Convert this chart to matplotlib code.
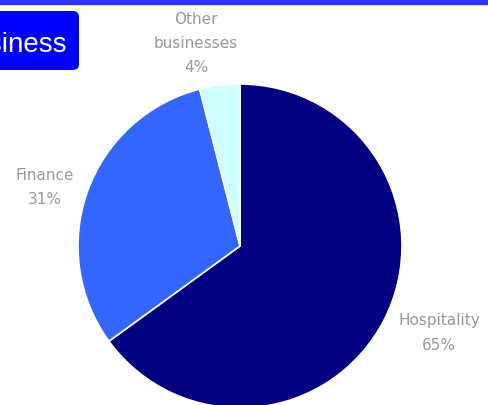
import matplotlib
matplotlib.use('Agg')
import matplotlib.pyplot as plt
from matplotlib.patches import FancyBboxPatch

# sector shares
sectors = ['Hospitality', 'Finance', 'Other\nbusinesses']
shares = [65, 31, 4]
colours = ['#000080', '#3366ff', '#ccffff']
label_xy = [(439, 72), (45, 218), (196, 361)]

W, H = 488, 405
fig = plt.figure(figsize=(W / 100, H / 100), dpi=100)
ax = fig.add_axes([0, 0, 1, 1])

ax.pie(shares, colors=colours, startangle=90, counterclock=False,
       center=(240, 159), radius=162, frame=True,
       wedgeprops=dict(edgecolor='white', linewidth=1.2))
ax.set_xlim(0, W)
ax.set_ylim(0, H)
ax.set_aspect('equal')
ax.axis('off')

for name, val, (x, y) in zip(sectors, shares, label_xy):
    ax.text(x, y, f'{name}\n{val}%', ha='center', va='center',
            color='#999999', fontsize=11, family='DejaVu Sans',
            linespacing=1.75)

# bar across the top
ax.axhspan(H - 4, H, color='#3333ff', zorder=5)

# title tab, running off the left edge
box = FancyBboxPatch((-40, H - 70), 119, 59, boxstyle='round,pad=0,rounding_size=6',
                     facecolor='#0000ff', edgecolor='none', zorder=5)
ax.add_patch(box)
ax.text(67, H - 52, 'Business', ha='right', va='baseline', color='white',
        fontsize=20, family='Liberation Sans', zorder=6)

fig.savefig('out.png', dpi=100)
